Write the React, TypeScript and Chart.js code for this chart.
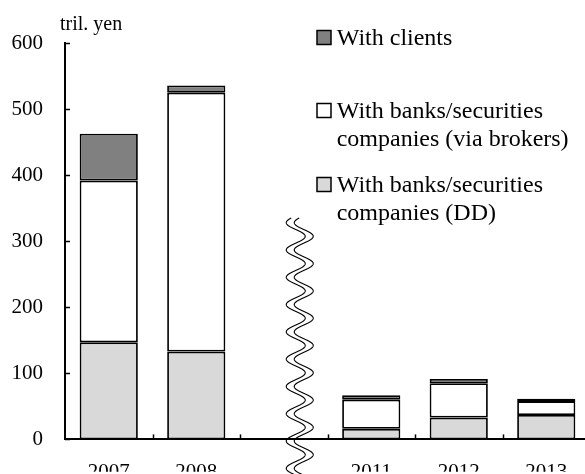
import React, { useEffect, useRef } from "react";
import { Chart, registerables } from "chart.js";

Chart.register(...registerables);

const categories = ["2007", "2008", "", "2011", "2012", "2013"];
const ddValues = [147, 133, null, 16, 33, 37];
const brokerValues = [245, 392, null, 44, 52, 21];
const clientValues = [71, 11, null, 7, 6.5, 3.5];
const yTickValues = [0, 100, 200, 300, 400, 500, 600];
const unitLabel = "tril. yen";
const legendEntries = [
  { lines: ["With clients"], color: "#808080" },
  { lines: ["With banks/securities", "companies (via brokers)"], color: "#ffffff" },
  { lines: ["With banks/securities", "companies (DD)"], color: "#d9d9d9" },
];

const SERIF = '"Liberation Serif", "Times New Roman", serif';

const decorPlugin = {
  id: "decor",
  afterDraw(chart: any) {
    const ctx = chart.ctx;
    const { left, top, bottom } = chart.chartArea;
    const xs = chart.scales.x;
    const ys = chart.scales.y;
    ctx.save();
    ctx.strokeStyle = "#000";
    ctx.lineWidth = 1.5;
    // y ticks pointing inward
    yTickValues.forEach((v) => {
      const py = Math.round(ys.getPixelForValue(v)) + 0.5;
      ctx.beginPath();
      ctx.moveTo(left, py);
      ctx.lineTo(left + 5, py);
      ctx.stroke();
    });
    // x ticks between categories pointing inward
    for (let i = 0; i < categories.length - 1; i++) {
      const px = Math.round((xs.getPixelForValue(i) + xs.getPixelForValue(i + 1)) / 2) + 0.5;
      ctx.beginPath();
      ctx.moveTo(px, bottom);
      ctx.lineTo(px, bottom - 5);
      ctx.stroke();
    }
    // wavy break line
    const cx = xs.getPixelForValue(2) + 16;
    const A = 9.5;
    const P = 27.3;
    const y0 = 229.5;
    ctx.lineWidth = 1.1;
    [-4, 4].forEach((off) => {
      ctx.beginPath();
      for (let y = 218; y <= 480; y += 0.5) {
        const x = cx + off + A * Math.sin((2 * Math.PI * (y - y0)) / P);
        if (y === 218) ctx.moveTo(x, y);
        else ctx.lineTo(x, y);
      }
      ctx.stroke();
    });
    // unit label
    ctx.fillStyle = "#000";
    ctx.font = "20px " + SERIF;
    ctx.textAlign = "left";
    ctx.textBaseline = "alphabetic";
    ctx.fillText(unitLabel, left - 5, top - 13.3);
    // legend
    const boxX = 317;
    const textX = 336.7;
    const baselines = [[45], [118, 146], [192, 220]];
    ctx.font = "24px " + SERIF;
    legendEntries.forEach((e, i) => {
      const b = baselines[i][0];
      ctx.fillStyle = e.color;
      ctx.fillRect(boxX, b - 14.5, 14, 14);
      ctx.lineWidth = 1.5;
      ctx.strokeStyle = "#000";
      ctx.strokeRect(boxX, b - 14.5, 14, 14);
      ctx.fillStyle = "#000";
      e.lines.forEach((ln, j) => {
        ctx.fillText(ln, textX, baselines[i][j]);
      });
    });
    ctx.restore();
  },
};

export default function App() {
  const ref = useRef<HTMLCanvasElement>(null);
  useEffect(() => {
    if (!ref.current) return;
    const common = {
      borderColor: "#000",
      borderWidth: 1.8,
      borderSkipped: false,
      categoryPercentage: 1,
      barPercentage: 0.665,
    };
    const chart = new Chart(ref.current, {
      type: "bar",
      data: {
        labels: categories,
        datasets: [
          { label: "With banks/securities companies (DD)", data: ddValues, backgroundColor: "#d9d9d9", ...common },
          { label: "With banks/securities companies (via brokers)", data: brokerValues, backgroundColor: "#ffffff", ...common },
          { label: "With clients", data: clientValues, backgroundColor: "#808080", ...common },
        ],
      } as any,
      options: {
        animation: false,
        responsive: false,
        devicePixelRatio: 1,
        layout: { padding: { top: 43.3, left: 10, right: 0, bottom: 0 } },
        plugins: { legend: { display: false }, tooltip: { enabled: false } },
        scales: {
          x: {
            stacked: true,
            grid: { display: false, drawTicks: false },
            border: { display: true, color: "#000", width: 2 },
            ticks: { color: "#000", font: { family: SERIF, size: 21 }, padding: 20, maxRotation: 0, autoSkip: false },
            afterFit: (s: any) => {
              s.height = 32.3;
            },
          },
          y: {
            stacked: true,
            min: 0,
            max: 600,
            grid: { display: false, drawTicks: false },
            border: { display: true, color: "#000", width: 2 },
            ticks: { color: "#000", stepSize: 100, font: { family: SERIF, size: 21 }, padding: 22 },
            afterFit: (s: any) => {
              s.width = 55;
            },
          },
        },
      } as any,
      plugins: [decorPlugin],
    });
    return () => chart.destroy();
  }, []);
  return (
    <div style={{ position: "fixed", left: 0, top: 0, width: 585, height: 474, overflow: "hidden", background: "#fff" }}>
      <canvas ref={ref} width={590} height={474} style={{ display: "block" }} />
    </div>
  );
}
